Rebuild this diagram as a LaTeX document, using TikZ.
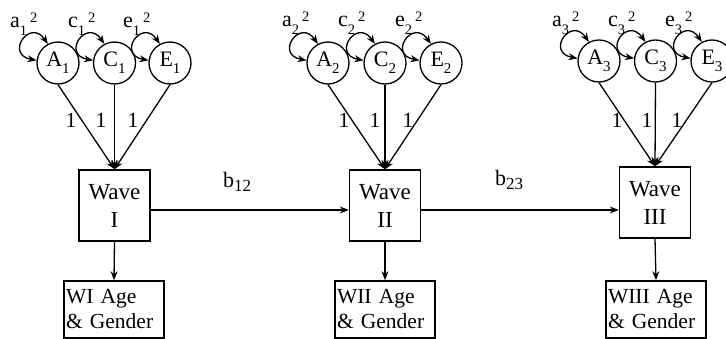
\documentclass[tikz,border=0pt]{standalone}
\usepackage{fontspec}
\setmainfont{Liberation Serif}
\usetikzlibrary{arrows.meta}
\newcommand\sbx[3]{\raisebox{#2}{\fontsize{#1}{#1}\selectfont #3}}
\newcommand\vl[2]{#1\sbx{14.5}{-8pt}{#2}\hspace{3pt}\sbx{14.5}{5.3pt}{2}}
\begin{document}
\begin{tikzpicture}[x=1pt,y=-1pt,
  lat/.style={circle,draw,line width=1.3pt,minimum size=42pt,inner sep=0pt,font=\fontsize{22}{22}\selectfont},
  wave/.style={draw,line width=1.5pt,minimum width=71pt,minimum height=71pt,inner sep=0pt,align=center,font=\fontsize{23}{28}\selectfont},
  cov/.style={draw,line width=1.5pt,minimum width=100pt,minimum height=57pt,text width=96pt,inner sep=2pt,align=left,font=\fontsize{21.5}{25}\selectfont},
  pth/.style={-{Stealth[length=9pt,width=7pt]},line width=1.3pt},
  var/.style={{Stealth[length=9pt,width=7pt]}-{Stealth[length=9pt,width=7pt]},line width=1.3pt},
  lab/.style={font=\fontsize{21.5}{21.5}\selectfont,inner sep=0pt},
  vlab/.style={font=\fontsize{22}{22}\selectfont,inner sep=0pt,anchor=base west}]
\useasboundingbox (0,0) rectangle (726,339);
% latent factors
\node[lat] (A1) at (58,63) {A\sbx{15}{-7pt}{1}};
\node[lat] (C1) at (114.5,63) {C\sbx{15}{-7pt}{1}};
\node[lat] (E1) at (170,63) {E\sbx{15}{-7pt}{1}};
\node[lat] (A2) at (328,63) {A\sbx{15}{-7pt}{2}};
\node[lat] (C2) at (385,63) {C\sbx{15}{-7pt}{2}};
\node[lat] (E2) at (441,63) {E\sbx{15}{-7pt}{2}};
\node[lat] (A3) at (599,61) {A\sbx{15}{-7pt}{3}};
\node[lat] (C3) at (655.5,61) {C\sbx{15}{-7pt}{3}};
\node[lat] (E3) at (712,61) {E\sbx{15}{-7pt}{3}};
% wave boxes
\node[wave] (W1) at (114.5,205.5) {Wave\\I};
\node[wave] (W2) at (385,205.5) {Wave\\II};
\node[wave] (W3) at (655,202.5) {Wave\\III};
% covariate boxes
\node[cov] (G1) at (114,309.5) {WI Age\\\& Gender};
\node[cov] (G2) at (385,309.5) {WII Age\\\& Gender};
\node[cov] (G3) at (656,309.5) {WIII Age\\\& Gender};
% variance loops and labels
\foreach \n in {A1,C1,E1,A2,C2,E2,A3,C3,E3}{
  \draw[var] (\n.173) .. controls +(-32,-6) and +(-18,-26) .. (\n.118);
}
\node[vlab] (la1) at (10,28) {\vl{a}{1}};
\node[vlab] (lc1) at (68,28) {\vl{c}{1}};
\node[vlab] (le1) at (123,28) {\vl{e}{1}};
\node[vlab] (la2) at (282,27) {\vl{a}{2}};
\node[vlab] (lc2) at (338,27) {\vl{c}{2}};
\node[vlab] (le2) at (395,27) {\vl{e}{2}};
\node[vlab] (la3) at (552,27) {\vl{a}{3}};
\node[vlab] (lc3) at (608,27) {\vl{c}{3}};
\node[vlab] (le3) at (665,27) {\vl{e}{3}};
% loadings
\foreach \g in {1,2,3}{
  \draw[pth] (A\g.south) -- (W\g.north);
  \draw[pth] (C\g.south) -- (W\g.north);
  \draw[pth] (E\g.south) -- (W\g.north);
  \draw[pth] (W\g.south) -- (G\g.north);
}
\node[lab] (o11) at (71,120.5) {1};
\node[lab] (o12) at (101,120.5) {1};
\node[lab] (o13) at (133,120.5) {1};
\node[lab] (o21) at (344,120.5) {1};
\node[lab] (o22) at (375,120.5) {1};
\node[lab] (o23) at (408,120.5) {1};
\node[lab] (o31) at (617,120.5) {1};
\node[lab] (o32) at (647,120.5) {1};
\node[lab] (o33) at (677,120.5) {1};
% regression paths
\coordinate (s1) at ([yshift=-4.5pt]W1.east);
\coordinate (s2) at ([yshift=-4.5pt]W2.east);
\draw[pth] (s1) -- (s1 -| W2.west);
\draw[pth] (s2) -- (s2 -| W3.west);
\node[lab,anchor=base west,font=\fontsize{22}{22}\selectfont] (b12) at (223,188) {b\sbx{17}{-4pt}{12}};
\node[lab,anchor=base west,font=\fontsize{22}{22}\selectfont] (b23) at (495,186) {b\sbx{17}{-4pt}{23}};
\end{tikzpicture}
\end{document}
